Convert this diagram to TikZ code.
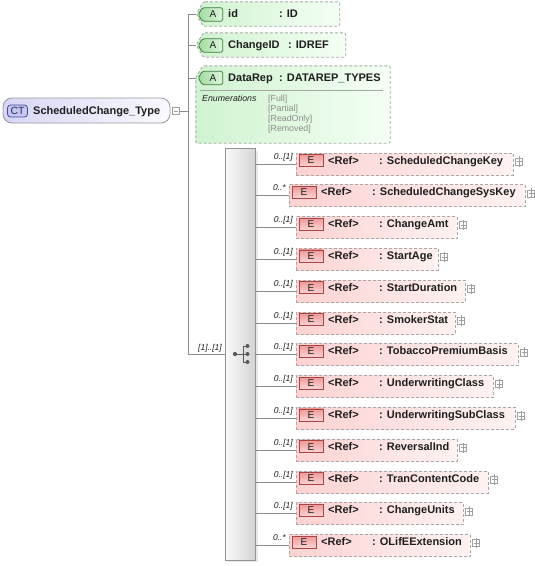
\documentclass[tikz,border=0pt]{standalone}
\usepackage{fontspec}
\setmainfont{Liberation Sans}
\usetikzlibrary{calc}
\definecolor{dashgray}{HTML}{A8A8A8}
\definecolor{conngray}{HTML}{8C8C8C}
\definecolor{attrL}{HTML}{D0F3D0}
\definecolor{attrR}{HTML}{F4FFF4}
\definecolor{abadgeL}{HTML}{A0DAA0}
\definecolor{abadgeR}{HTML}{DCF6DC}
\definecolor{abadgeB}{HTML}{3E7A3E}
\definecolor{elemL}{HTML}{FCD2D2}
\definecolor{elemR}{HTML}{FFF2F2}
\definecolor{ebadgeL}{HTML}{F09A9A}
\definecolor{ebadgeR}{HTML}{FAD6D6}
\definecolor{ebadgeB}{HTML}{A84444}
\definecolor{ctL}{HTML}{D6D6F6}
\definecolor{ctR}{HTML}{FAFAFF}
\definecolor{ctbadge}{HTML}{C6C6F2}
\definecolor{ctbadgeB}{HTML}{4A4A9A}
\definecolor{seqL}{HTML}{FAFAFA}
\definecolor{seqR}{HTML}{D4D4D4}
\definecolor{txt}{HTML}{1E1E1E}
\definecolor{enumgray}{HTML}{8A8A8A}
\definecolor{icongray}{HTML}{A0A0A0}
\tikzset{
  conn/.style={draw=conngray, line width=0.8pt},
  dashbox/.style={draw=dashgray, line width=0.9pt, dash pattern=on 3pt off 2pt},
  anchorbox/.style={rectangle, inner sep=0pt, draw=none},
  attrshape/.style={dashbox, left color=attrL, right color=attrR, rounded corners=1.5pt},
  elembox/.style={dashbox, rectangle, left color=elemL, right color=elemR, inner sep=0pt, minimum height=22pt},
  abadgeshape/.style={draw=abadgeB, line width=0.8pt, rounded corners=1.5pt, left color=abadgeL, right color=abadgeR},
  abadgetxt/.style={inner sep=0pt, font=\fontsize{10}{10}\selectfont, text=txt},
  ebadge/.style={draw=ebadgeB, line width=0.8pt, top color=ebadgeL, bottom color=ebadgeR,
    minimum width=24pt, minimum height=12pt, inner sep=0pt, font=\fontsize{10}{10}\selectfont, text=txt},
  ctbadgest/.style={draw=ctbadgeB, line width=0.8pt, rounded corners=3pt, fill=ctbadge,
    minimum width=20pt, minimum height=12pt, inner sep=0pt, font=\fontsize{10.5}{10}\selectfont, text=ctbadgeB!60!black},
  nametxt/.style={anchor=base west, inner sep=0pt, font=\fontsize{11}{12}\bfseries, text=txt},
  multtxt/.style={anchor=base east, inner sep=0pt, font=\fontsize{8.5}{9}\itshape, text=txt},
  enumtxt/.style={anchor=base west, inner sep=0pt, font=\fontsize{8.8}{9}\selectfont, text=enumgray},
  plusbox/.style={draw=icongray, line width=0.6pt, fill=white, minimum size=7pt, inner sep=0pt},
}
\begin{document}
\begin{tikzpicture}[x=1pt,y=-1pt]
\useasboundingbox (0,0) rectangle (535,566);

% complex type
\node[draw=gray!80, line width=0.8pt, rounded corners=9pt, left color=ctL, right color=ctR,
  minimum width=167pt, minimum height=25pt, inner sep=0pt] (ct) at (86.5,110.5) {};
\node[ctbadgest] (ctb) at (17.5,111) {CT};
\node[nametxt] (ctname) at (33,114.5) {ScheduledChange\_Type};
\node[plusbox] (ctminus) at (176,111) {};
\draw[draw=icongray, line width=0.7pt] ($(ctminus.west)+(1.5,0)$) -- ($(ctminus.east)+(-1.5,0)$);

% spine
\coordinate (spTop) at (188,14);
\coordinate (spBot) at (188,354);
\draw[conn] (ctminus.east) -- (ctminus.east -| spTop);

% attribute: id
\node[anchorbox, minimum width=143pt, minimum height=24pt] (idbox) at (268,14) {};
\path[attrshape] ($(idbox.north west)+(7,0)$) -- (idbox.north east) -- (idbox.south east)
  -- ($(idbox.south west)+(7,0)$) -- (idbox.west) -- cycle;
\node[anchorbox, minimum width=24pt, minimum height=13pt] (idA) at (210.5,14.5) {};
\path[abadgeshape] ($(idA.north west)+(4,0)$) -- (idA.north east) -- (idA.south east)
  -- ($(idA.south west)+(4,0)$) -- (idA.west) -- cycle;
\node[abadgetxt] (idAt) at (213,14.5) {A};
\node[nametxt] (idname) at (228,17.5) {id};
\node[nametxt] (idtype) at (279,17.5) {: ID};

% attribute: ChangeID
\node[anchorbox, minimum width=149pt, minimum height=24pt] (chgbox) at (271,45) {};
\path[attrshape] ($(chgbox.north west)+(7,0)$) -- (chgbox.north east) -- (chgbox.south east)
  -- ($(chgbox.south west)+(7,0)$) -- (chgbox.west) -- cycle;
\node[anchorbox, minimum width=24pt, minimum height=13pt] (chgA) at (210.5,45.5) {};
\path[abadgeshape] ($(chgA.north west)+(4,0)$) -- (chgA.north east) -- (chgA.south east)
  -- ($(chgA.south west)+(4,0)$) -- (chgA.west) -- cycle;
\node[abadgetxt] (chgAt) at (213,45.5) {A};
\node[nametxt] (chgname) at (228,48.5) {ChangeID};
\node[nametxt] (chgtype) at (288,48.5) {: IDREF};

% attribute: DataRep
\node[anchorbox, minimum width=194pt, minimum height=77pt] (drbox) at (293,104.5) {};
\path[attrshape] ($(drbox.north west)+(7,0)$) -- (drbox.north east) -- (drbox.south east)
  -- (drbox.south west) -- ($(drbox.north west)+(0,12)$) -- cycle;
\node[anchorbox, minimum width=24pt, minimum height=13pt] (drA) at (210.5,78) {};
\path[abadgeshape] ($(drA.north west)+(4,0)$) -- (drA.north east) -- (drA.south east)
  -- ($(drA.south west)+(4,0)$) -- (drA.west) -- cycle;
\node[abadgetxt] (drAt) at (213,78) {A};
\node[nametxt] (drname) at (228,81.5) {DataRep};
\node[nametxt] (drtype) at (279,81.5) {: DATAREP\_TYPES};
\draw[draw=gray!70, line width=0.7pt] ($(drbox.north west)+(4,24.5)$) -- ($(drbox.north east)+(-7,24.5)$);
\node[anchor=base west, inner sep=0pt, font=\fontsize{8.8}{9}\itshape, text=txt] (enumlbl) at (202,101) {Enumerations};
\node[enumtxt] (en1) at (268,101) {[Full]};
\node[enumtxt] (en2) at (268,111.3) {[Partial]};
\node[enumtxt] (en3) at (268,121.6) {[ReadOnly]};
\node[enumtxt] (en4) at (268,131.9) {[Removed]};

\draw[conn] (spTop) -- (idbox.west);
\draw[conn] (spTop) -- (spBot);
\draw[conn] (spTop |- chgbox.west) -- (chgbox.west);
\draw[conn] (spTop |- drA) -- (drbox.west |- drA);

% sequence
\fill[gray!18] (228,151) rectangle (258,562);
\node[draw=gray!85, line width=0.8pt, left color=seqL, right color=seqR,
  minimum width=30pt, minimum height=412pt, inner sep=0pt] (seq) at (240,354) {};
\draw[conn] (spBot) -- (seq.west |- spBot);
\node[anchor=base east, inner sep=0pt, font=\fontsize{8.5}{9}\itshape, text=txt] (seqmult) at (222,350.5) {[1]..[1]};
\fill[black!65] (235,354) circle (2.1pt);
\draw[black!65, line width=0.9pt] (235,354) -- (243,354) (243,346) -- (243,362)
  (243,346) -- (247.5,346) (243,362) -- (247.5,362) (243,354) -- (247.5,354);
\fill[black!65] (247.5,346) circle (2pt) (247.5,354) circle (2pt) (247.5,362) circle (2pt);

% elements
\foreach \i/\nm/\r/\st in {1/ScheduledChangeKey/513/0, 2/ScheduledChangeSysKey/525/1,
  3/ChangeAmt/457/0, 4/StartAge/438/0, 5/StartDuration/465/0, 6/SmokerStat/455/0,
  7/TobaccoPremiumBasis/518/0, 8/UnderwritingClass/493/0, 9/UnderwritingSubClass/515/0,
  10/ReversalInd/457/0, 11/TranContentCode/488/0, 12/ChangeUnits/463/0, 13/OLifEExtension/470/1} {
  \pgfmathsetmacro\yy{163+31.8*(\i-1)}
  \ifnum\st=1
    \def\lx{289}\def\mt{0..*}
  \else
    \def\lx{296}\def\mt{0..[1]}
  \fi
  \pgfmathsetmacro\w{\r-\lx}
  \pgfmathsetmacro\cx{(\r+\lx)/2}
  \node[elembox, minimum width=\w pt] (e\i) at (\cx,\yy+1) {};
  \node[ebadge] (e\i b) at (\lx+15,\yy-2.5) {E};
  \node[nametxt] (e\i r) at (\lx+32,\yy+1) {<Ref>};
  \node[nametxt] (e\i n) at (\lx+83,\yy+1) {: \nm};
  \node[plusbox] (e\i p) at (\r+6,\yy-1.5) {};
  \draw[draw=icongray, line width=0.6pt] ($(e\i p.west)+(1.3,0)$) -- ($(e\i p.east)+(-1.3,0)$)
    ($(e\i p.north)+(0,-1.3)$) -- ($(e\i p.south)+(0,1.3)$);
  \node[multtxt] (e\i m) at (\lx-3,\yy-4) {\mt};
  \draw[conn] (seq.east |- e\i.west) -- (e\i.west);
}
\end{tikzpicture}
\end{document}
